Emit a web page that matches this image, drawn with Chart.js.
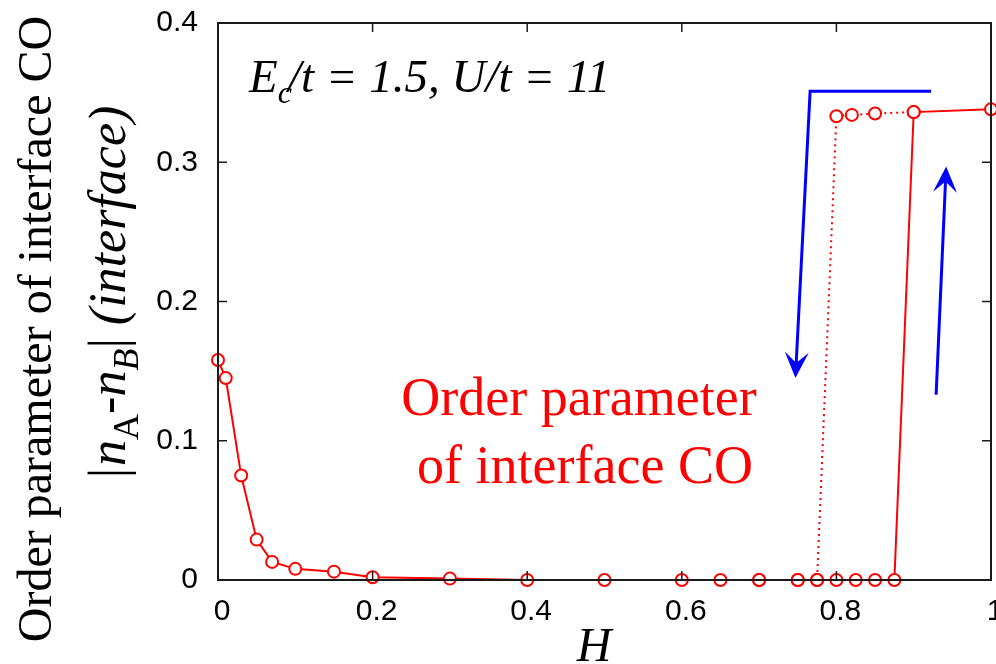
<!DOCTYPE html>
<html>
<head>
<meta charset="utf-8">
<script src="https://cdn.jsdelivr.net/npm/chart.js@4/dist/chart.umd.min.js"></script>
<style>
  html, body { margin: 0; padding: 0; background: #fff; }
  #wrap { width: 996px; height: 664px; }
</style>
</head>
<body>
<div id="wrap"><canvas id="chart" width="996" height="664"></canvas></div>
<script>
// 上升扫描 (实线)
const hUp = [0, 0.01, 0.03, 0.05, 0.07, 0.1, 0.15, 0.2, 0.3, 0.4, 0.5, 0.6, 0.65, 0.7, 0.75, 0.775, 0.8, 0.825, 0.85, 0.875, 0.9, 1.0];
const upValues = [0.158, 0.145, 0.075, 0.029, 0.013, 0.008, 0.006, 0.002, 0.001, 0, 0, 0, 0, 0, 0, 0, 0, 0, 0, 0, 0.336, 0.338];

// 下降扫描 (点线)
const hDown = [0.7, 0.75, 0.775, 0.8, 0.82, 0.85, 0.9];
const downValues = [0, 0, 0, 0.333, 0.334, 0.335, 0.336];

// 刻度
const xTicks = [0, 0.2, 0.4, 0.6, 0.8, 1];
const yTicks = [0, 0.1, 0.2, 0.3, 0.4];

// 扫描方向箭头 (数据坐标)
const sweepDownArrow = [[0.9225, 0.351], [0.766, 0.351], [0.747, 0.145]];
const sweepUpArrow = [[0.929, 0.133], [0.942, 0.297]];

const RED = '#ff0000';
const BLUE = '#0000ff';
const SERIF = '"Liberation Serif", "Times New Roman", serif';
const SANS = '"Liberation Sans", Arial, sans-serif';

function toPixels(chart, pts) {
    const { x, y } = chart.scales;
    return pts.map(p => [x.getPixelForValue(p[0]), y.getPixelForValue(p[1])]);
}

function drawArrow(ctx, pts, color) {
    const len = 26, half = 12, notch = 15;
    const [tx, ty] = pts[pts.length - 1];
    const [px, py] = pts[pts.length - 2];
    const ang = Math.atan2(ty - py, tx - px);
    ctx.save();
    ctx.strokeStyle = color;
    ctx.fillStyle = color;
    ctx.lineWidth = 3;
    ctx.beginPath();
    pts.forEach((p, i) => {
        if (i === 0) ctx.moveTo(p[0], p[1]);
        else if (i < pts.length - 1) ctx.lineTo(p[0], p[1]);
    });
    ctx.lineTo(tx - Math.cos(ang) * notch, ty - Math.sin(ang) * notch);
    ctx.stroke();
    ctx.translate(tx, ty);
    ctx.rotate(ang);
    ctx.beginPath();
    ctx.moveTo(0, 0);
    ctx.lineTo(-len, -half);
    ctx.lineTo(-notch, 0);
    ctx.lineTo(-len, half);
    ctx.closePath();
    ctx.fill();
    ctx.restore();
}

// 逐段绘制带下标的文字
function drawPieces(ctx, pieces, startX, baseY) {
    let cx = startX;
    pieces.forEach(p => {
        ctx.font = p.font;
        ctx.fillText(p.text, cx, baseY + (p.dy || 0));
        cx += ctx.measureText(p.text).width + (p.kern || 0);
    });
}

function piecesWidth(ctx, pieces) {
    return pieces.reduce((w, p) => {
        ctx.font = p.font;
        return w + ctx.measureText(p.text).width + (p.kern || 0);
    }, 0);
}

function noPadding(s) {
    s.paddingTop = 0;
    s.paddingBottom = 0;
    s.paddingLeft = 0;
    s.paddingRight = 0;
}

const decorPlugin = {
    id: 'decor',
    afterDatasetsDraw(chart) {
        const { ctx, chartArea: a, scales: { x, y } } = chart;
        ctx.save();
        ctx.strokeStyle = '#1a1a1a';
        ctx.lineWidth = 2;
        ctx.strokeRect(a.left, a.top, a.right - a.left, a.bottom - a.top);
        ctx.lineWidth = 1.5;
        ctx.beginPath();
        xTicks.slice(1, -1).forEach(v => {
            const px = x.getPixelForValue(v);
            ctx.moveTo(px, a.bottom); ctx.lineTo(px, a.bottom - 9);
            ctx.moveTo(px, a.top); ctx.lineTo(px, a.top + 9);
        });
        yTicks.slice(1, -1).forEach(v => {
            const py = y.getPixelForValue(v);
            ctx.moveTo(a.left, py); ctx.lineTo(a.left + 9, py);
            ctx.moveTo(a.right, py); ctx.lineTo(a.right - 9, py);
        });
        ctx.stroke();
        ctx.restore();
    },
    afterDraw(chart) {
        const { ctx } = chart;
        drawArrow(ctx, toPixels(chart, sweepDownArrow), BLUE);
        drawArrow(ctx, toPixels(chart, sweepUpArrow), BLUE);

        ctx.save();
        ctx.fillStyle = '#000';
        ctx.textAlign = 'left';
        ctx.textBaseline = 'alphabetic';

        // 参数标注
        drawPieces(ctx, [
            { text: 'E', font: `italic 47px ${SERIF}` },
            { text: 'c', font: `italic 32px ${SERIF}`, dy: 11, kern: -4 },
            { text: '/t = 1.5, U/t = 11', font: `italic 47px ${SERIF}` }
        ], 249, 92);

        // 红色说明文字
        ctx.fillStyle = RED;
        ctx.textAlign = 'center';
        ctx.font = `54px ${SERIF}`;
        ctx.fillText('Order parameter', 579, 415);
        ctx.fillText('of interface CO', 585, 483);

        // x 轴标题
        ctx.fillStyle = '#000';
        ctx.font = `italic 48px ${SERIF}`;
        ctx.fillText('H', 594, 661);

        // 外侧 y 轴标题
        ctx.save();
        ctx.translate(51, 329);
        ctx.rotate(-Math.PI / 2);
        ctx.font = `48px ${SERIF}`;
        ctx.fillText('Order parameter of interface CO', 0, 0);
        ctx.restore();

        // 内侧 y 轴标题 |n_A-n_B| (interface)
        const inner = [
            { text: '|', font: `52px ${SERIF}`, kern: 2 },
            { text: 'n', font: `italic 52px ${SERIF}` },
            { text: 'A', font: `36px ${SERIF}`, dy: 13 },
            { text: '-', font: `52px ${SERIF}` },
            { text: 'n', font: `italic 52px ${SERIF}` },
            { text: 'B', font: `italic 36px ${SERIF}`, dy: 13 },
            { text: '|', font: `52px ${SERIF}` },
            { text: ' (interface)', font: `italic 52px ${SERIF}` }
        ];
        ctx.save();
        ctx.translate(125, 292);
        ctx.rotate(-Math.PI / 2);
        ctx.textAlign = 'left';
        drawPieces(ctx, inner, -piecesWidth(ctx, inner) / 2, 0);
        ctx.restore();

        ctx.restore();
    }
};

new Chart(document.getElementById('chart'), {
    type: 'line',
    data: {
        datasets: [
            {
                label: 'H up',
                data: hUp.map((h, i) => ({ x: h, y: upValues[i] })),
                borderColor: RED,
                borderWidth: 2,
                pointRadius: 6,
                pointBorderWidth: 2,
                pointBorderColor: RED,
                pointBackgroundColor: '#fff',
                tension: 0,
                clip: false
            },
            {
                label: 'H down',
                data: hDown.map((h, i) => ({ x: h, y: downValues[i] })),
                borderColor: RED,
                borderWidth: 2,
                borderDash: [2, 4],
                pointRadius: 6,
                pointBorderWidth: 2,
                pointBorderColor: RED,
                pointBackgroundColor: '#fff',
                tension: 0,
                clip: false
            }
        ]
    },
    options: {
        responsive: false,
        animation: false,
        events: [],
        layout: { autoPadding: false, padding: { top: 23, right: 5, left: 0, bottom: 0 } },
        plugins: { legend: { display: false }, tooltip: { enabled: false } },
        scales: {
            x: {
                type: 'linear',
                min: 0,
                max: 1,
                afterBuildTicks: s => { s.ticks = xTicks.map(v => ({ value: v })); },
                afterFit: s => { s.height = 84; noPadding(s); },
                grid: { display: false, drawTicks: false },
                border: { display: false },
                ticks: {
                    color: '#000',
                    font: { family: SANS, size: 30 },
                    padding: 14,
                    labelOffset: 4,
                    maxRotation: 0,
                    autoSkip: false,
                    callback: v => String(v)
                }
            },
            y: {
                type: 'linear',
                min: 0,
                max: 0.4,
                afterBuildTicks: s => { s.ticks = yTicks.map(v => ({ value: v })); },
                afterFit: s => { s.width = 218; noPadding(s); },
                grid: { display: false, drawTicks: false },
                border: { display: false },
                ticks: {
                    color: '#000',
                    font: { family: SANS, size: 30 },
                    padding: 20,
                    autoSkip: false,
                    callback: v => String(v)
                }
            }
        }
    },
    plugins: [decorPlugin]
});
</script>
</body>
</html>
